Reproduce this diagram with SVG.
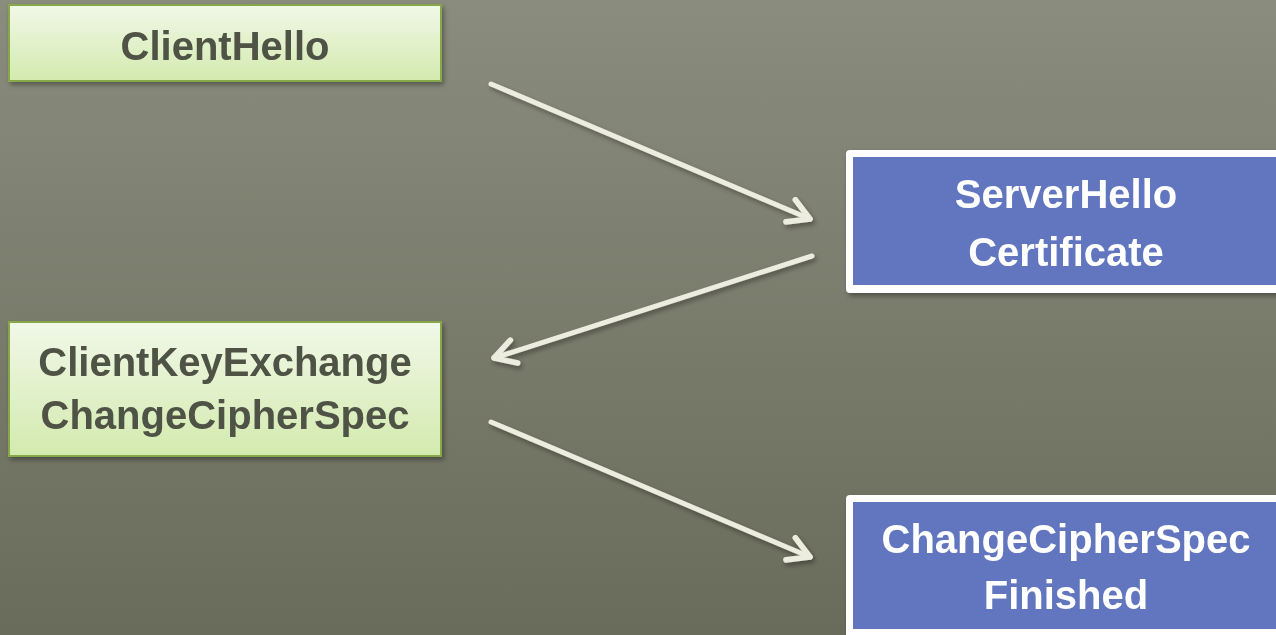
<svg xmlns="http://www.w3.org/2000/svg" width="1276" height="635" viewBox="0 0 1276 635">
<defs>
<linearGradient id="bg" x1="0" y1="0" x2="0" y2="1">
<stop offset="0" stop-color="#8a8c7d"/>
<stop offset="1" stop-color="#696b5b"/>
</linearGradient>
<linearGradient id="green" x1="0" y1="0" x2="0" y2="1">
<stop offset="0" stop-color="#f1f8e8"/>
<stop offset="1" stop-color="#d3eaae"/>
</linearGradient>
<filter id="sh" x="-10%" y="-20%" width="120%" height="140%">
<feDropShadow dx="2" dy="3" stdDeviation="2.5" flood-color="#000" flood-opacity="0.35"/>
</filter>
<marker id="chev" viewBox="0 0 20 20" refX="17" refY="10" markerWidth="6" markerHeight="6" markerUnits="strokeWidth" orient="auto">
<polyline points="3,2 17,10 3,18" fill="none" stroke="#ececdf" stroke-width="3.8" stroke-linecap="round" stroke-linejoin="round"/>
</marker>
<style>
.g rect{fill:url(#green);stroke:#86a84a;stroke-width:2}
.b .outer{fill:#ffffff}
.b .inner{fill:#6276c0}
.tg{font-family:"Liberation Sans",Arial,sans-serif;font-weight:bold;font-size:40px;fill:#4f5245;text-anchor:middle}
.tb{font-family:"Liberation Sans",Arial,sans-serif;font-weight:bold;font-size:40px;fill:#ffffff;text-anchor:middle}
.c line{stroke:#ececdf;stroke-width:5;stroke-linecap:round;marker-end:url(#chev)}
</style>
</defs>
<rect width="1276" height="635" fill="url(#bg)"/>
<g id="clienthello" class="g" filter="url(#sh)">
<rect x="9" y="5" width="432" height="76"/>
<text class="tg" x="225" y="60">ClientHello</text>
</g>
<g id="serverhello" class="b" filter="url(#sh)">
<rect class="outer" x="846" y="150" width="440" height="143" rx="4"/>
<rect class="inner" x="853" y="157" width="433" height="128"/>
<text class="tb" x="1066" y="208">ServerHello</text>
<text class="tb" x="1066" y="266">Certificate</text>
</g>
<g id="clientkeyexchange" class="g" filter="url(#sh)">
<rect x="9" y="322" width="432" height="134"/>
<text class="tg" x="225" y="376">ClientKeyExchange</text>
<text class="tg" x="225" y="429">ChangeCipherSpec</text>
</g>
<g id="serverfinished" class="b" filter="url(#sh)">
<rect class="outer" x="846" y="495" width="440" height="150" rx="4"/>
<rect class="inner" x="853" y="502" width="433" height="127"/>
<text class="tb" x="1066" y="553">ChangeCipherSpec</text>
<text class="tb" x="1066" y="609">Finished</text>
</g>
<g id="connectors" class="c" filter="url(#sh)">
<line x1="491" y1="84" x2="810" y2="219"/>
<line x1="812" y1="256" x2="494" y2="358"/>
<line x1="491" y1="422" x2="810" y2="557"/>
</g>
</svg>
